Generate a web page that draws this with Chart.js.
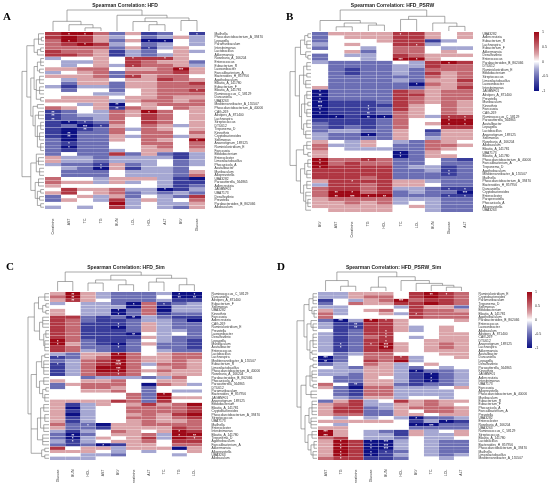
<!DOCTYPE html>
<html>
<head>
<meta charset="utf-8">
<script src="https://cdn.jsdelivr.net/npm/chart.js@4.4.1/dist/chart.umd.min.js"></script>
<style>
  body { margin: 0; background: #fff; }
  #page { position: relative; width: 550px; height: 483px; overflow: hidden; }
  canvas { position: absolute; }
  .tag { position: absolute; font: bold 11px "Liberation Serif", "DejaVu Serif", serif; line-height: 11px; color: #000; }
</style>
</head>
<body>
<div id="page">
  <canvas id="chartA" width="275" height="242" style="left:0;top:0"></canvas>
  <canvas id="chartB" width="275" height="242" style="left:275px;top:0"></canvas>
  <canvas id="chartC" width="275" height="241" style="left:0;top:242px"></canvas>
  <canvas id="chartD" width="275" height="241" style="left:275px;top:242px"></canvas>
  <div class="tag" style="left:3px;top:11px">A</div>
  <div class="tag" style="left:286px;top:11px">B</div>
  <div class="tag" style="left:6px;top:261px">C</div>
  <div class="tag" style="left:277px;top:261px">D</div>
</div>
<script>
// each character of a vals row is a correlation level: 1 = -1, 5 = 0, 9 = +1 (steps of 0.25)
// stars: [row, column, number of asterisks]
// trees: [height, child, child, ...], leaves are row / column indexes

const legendTicks = [1, 0.5, 0, -0.5, -1];

// ---------- A: HFD ----------
const colsA = ['Creatinine', 'AST', 'TC', 'TG', 'BUN', 'LDL', 'HDL', 'ALT', 'BW', 'Glucose'];
const rowsA = ['Mailhella', 'Phascolarctobacterium_A_39470', 'Lepagella', 'Paramuribaculum', 'Intestinimonas',
  'Lactobacillus', 'Akkermansia', 'Roseburia_A_166204', 'Enterococcus', 'Eubacterium_R',
  'Lawsonibacter', 'Faecalibacterium_A', 'Bacteroides_H_857956', 'Agathobaculum', 'Blautia_A_141780',
  'Eubacterium_F', 'Blautia_A_141781', 'Ruminococcus_C_58129', 'Duncaniella', 'UBA3263',
  'Mediterraneibacter_A_155507', 'Phascolarctobacterium_A_40006', 'CAG-269', 'Alistipes_A_871400', 'Lachnospira',
  'Streptococcus', 'DTU012', 'Treponema_D', 'Kineothrix', 'Cryptobacteroides',
  'Sellimonas', 'Anaerotignum_189125', 'Ruminiclostridium_E', 'Faecousia', 'Bifidobacterium',
  'Enterocloster', 'Limosilactobacillus', 'Phocaeicola_A', 'Acutalibacter', 'Muribaculum',
  'Alloprevotella', 'UBA3282', 'Parasutterella_564865', 'Adlercreutzia', 'JAGBNF01',
  'UBA7173', 'Desulfovibrio', 'Prevotella', 'Parabacteroides_B_862066', 'Allobaculum'];
const valsA = ['8997362352', '8986453464', '7986361154', '7898453454', '7777362465',
  '8776243564', '8876243465', '4556588865', '5446587663', '5456487764',
  '6677566796', '4567377786', '6667386775', '5466566876', '5366366778',
  '4244366777', '5355356778', '5554456777', '5666566766', '6666467767',
  '5546156777', '7656276576', '2354769756', '2344768756', '2334758756',
  '2123758756', '2312657646', '2123747656', '2133757757', '2133647746',
  '3133657659', '3233557757', '3133556757', '3233456656', '3533836324',
  '6443444424', '6443444534', '4332634534', '5431624435', '5333544436',
  '5333544437', '7554666421', '7664645422', '6555555423', '5866744124',
  '6856734343', '3564635438', '3654846457', '5555945446', '4545845436'];
const starsA = [[0,1,1],[0,2,1],[0,9,1],[2,1,1],[2,6,1],[2,7,1],[3,2,1],[4,6,1],[7,5,1],[7,7,1],
  [9,5,1],[10,8,3],[12,5,1],[16,9,1],[20,4,2],[21,4,2],[22,0,2],[22,6,1],[23,0,2],[24,0,2],
  [25,1,1],[25,2,1],[26,2,3],[26,3,1],[27,2,2],[28,1,2],[29,1,2],[30,9,1],[31,1,1],[32,1,1],
  [37,3,1],[38,3,1],[44,7,1]];
const topTreeA = [1, [0.46, 0, [0.3, 1, [0.15, 2, 3]]], [0.75, 4, [0.62, [0.45, 5, [0.3, 6, 7]], [0.5, 8, 9]]]];
const rowTreeA = [1,
  [0.78,
    [0.45, [0.25, 0, [0.12, 1, 2], 3], [0.3, [0.15, 4, 5], 6]],
    [0.6,
      [0.45, [0.3, [0.15, 7, 8, 9], [0.2, 10, 11]], [0.35, [0.2, 12, 13, 14], [0.2, 15, 16, 17], [0.15, 18, 19]]],
      [0.5, [0.3, 20, 21], [0.4, [0.25, 22, 23, 24], [0.3, [0.15, 25, 26, 27], [0.2, 28, 29, 30], [0.15, 31, 32, 33]]]]]],
  [0.6, [0.35, 34, [0.25, 35, 36, 37], [0.2, 38, 39, 40]], [0.4, [0.25, 41, 42, 43], [0.3, [0.15, 44, 45], [0.2, 46, 47], [0.15, 48, 49]]]]];

// ---------- B: HFD_PSRW ----------
const colsB = ['BW', 'AST', 'Creatinine', 'TG', 'HDL', 'TC', 'LDL', 'BUN', 'Glucose', 'ALT'];
const rowsB = ['UBA3282', 'Adlercreutzia', 'Eubacterium_R', 'Lachnospira', 'Eubacterium_F',
  'Akkermansia', 'Desulfovibrio', 'Enterococcus', 'Parabacteroides_B_862066', 'DTU012',
  'Ruminiclostridium_E', 'Bifidobacterium', 'Streptococcus', 'Limosilactobacillus', 'Lawsonibacter',
  'Intestinimonas', 'JAGBNF01', 'Alistipes_A_871400', 'Prevotella', 'Muribaculum',
  'Kineothrix', 'Faecousia', 'CAG-269', 'Ruminococcus_C_58129', 'Parasutterella_564865',
  'Acutalibacter', 'Lepagella', 'Lactobacillus', 'Anaerotignum_189125', 'Sellimonas',
  'Roseburia_A_166204', 'Allobaculum', 'Blautia_A_141781', 'UBA7173', 'Blautia_A_141780',
  'Phascolarctobacterium_A_40006', 'Faecalibacterium_A', 'Treponema_D', 'Agathobaculum', 'Mediterraneibacter_A_155507',
  'Mailhella', 'Phascolarctobacterium_A_39470', 'Bacteroides_H_857956', 'Duncaniella', 'Cryptobacteroides',
  'Enterocloster', 'Paraprevotella', 'Phocaeicola_A', 'Alloprevotella', 'UBA3263'];
const valsB = ['3666688656', '3566688656', '3555688245', '4565588455', '3554577544',
  '5563577565', '3544587666', '3554599655', '4333354898', '5333344877',
  '5323343777', '5323343867', '5333333767', '5333343668', '5333331767',
  '6333333668', '1333387677', '1333388677', '1333387677', '1222387676',
  '1222286576', '1222386576', '1222376576', '1121176488', '2222375599',
  '3222375699', '3232375588', '3443365266', '4331365366', '4333365466',
  '6546543765', '7446533776', '7544433765', '6555513655', '6555513665',
  '9778733532', '9787733533', '9888834423', '8888833423', '8888833323',
  '8887833333', '6888866433', '4887866533', '7887844322', '7997834331',
  '7999933322', '6777744433', '6676745433', '6666656433', '5666655433'];
const starsB = [[0,5,1],[3,6,1],[7,5,3],[7,6,1],[8,8,1],[14,6,1],[16,0,1],[17,0,2],[18,0,1],[19,0,3],
  [20,0,3],[20,3,1],[21,0,1],[21,3,1],[22,0,1],[22,3,2],[23,1,1],[23,3,2],[23,4,1],[23,8,1],
  [23,9,1],[24,8,1],[24,9,1],[25,8,1],[25,9,1],[28,3,1],[33,5,1],[34,5,1],[35,0,1],[35,3,1],
  [36,0,1],[37,0,1],[38,8,1],[39,8,1],[41,2,1],[43,8,1],[43,9,1],[44,1,2],[44,2,1],[44,9,3],
  [45,1,2],[45,2,3],[45,3,1],[45,4,2],[45,8,1],[45,9,1]];
const topTreeB = [1, [0.5, 0, [0.38, [0.2, 1, 2], [0.28, 3, 4]]], [0.7, [0.55, 5, 6], [0.38, 7, [0.22, 8, 9]]]];
const rowTreeB = [1,
  [0.75,
    [0.5, [0.3, [0.15, 0, 1], [0.2, 2, 3, 4]], [0.25, 5, [0.15, 6, 7]]],
    [0.55, [0.35, [0.2, 8, 9, 10], [0.2, 11, 12], [0.25, 13, 14, 15]],
      [0.45, [0.3, [0.2, 16, 17, 18], [0.15, 19, 20], [0.2, 21, 22, 23]], [0.35, [0.2, 24, 25, 26], [0.25, 27, 28, 29]]]]],
  [0.7, [0.35, [0.2, 30, 31, 32], [0.15, 33, 34]],
    [0.5, [0.3, [0.15, 35, 36, 37], [0.2, 38, 39, 40]], [0.35, [0.2, 41, 42, 43], [0.25, 44, 45, [0.15, 46, 47, 48], 49]]]]];

// ---------- C: HFD_Sim ----------
const colsC = ['Glucose', 'BUN', 'HDL', 'AST', 'BW', 'Creatinine', 'ALT', 'TC', 'TG', 'LDL'];
const rowsC = ['Ruminococcus_C_58129', 'Duncaniella', 'Alistipes_A_871400', 'Eubacterium_F', 'Sellimonas',
  'UBA3282', 'Kineothrix', 'Faecousia', 'Adlercreutzia', 'CAG-269',
  'Ruminiclostridium_E', 'Prevotella', 'Lawsonibacter', 'Desulfovibrio', 'Lepagella',
  'Muribaculum', 'Acutalibacter', 'Enterococcus', 'Lactobacillus', 'Lachnospira',
  'Mediterraneibacter_A_155507', 'Eubacterium_R', 'Limosilactobacillus', 'Phascolarctobacterium_A_40006', 'Roseburia_A_166204',
  'Parabacteroides_B_862066', 'Phocaeicola_A', 'Parasutterella_564865', 'DTU012', 'Paramuribaculum',
  'Bacteroides_H_857956', 'JAGBNF01', 'Anaerotignum_189125', 'Bifidobacterium', 'Blautia_A_141781',
  'Cryptobacteroides', 'Phascolarctobacterium_A_39470', 'Streptococcus', 'UBA7173', 'Mailhella',
  'Enterocloster', 'Intestinimonas', 'Blautia_A_141780', 'Treponema_D', 'Agathobaculum',
  'Faecalibacterium_A', 'Akkermansia', 'Alloprevotella', 'UBA3263', 'Allobaculum'];
const valsC = ['6964333411', '7964333511', '6865333422', '4544317234', '5544417144',
  '6544137144', '6544137233', '8832314322', '8732234431', '8722236433',
  '8722136433', '8722236443', '8722215453', '8722226433', '9732235432',
  '9632136332', '8733235332', '8743235433', '4366975677', '2367976677',
  '3478976676', '2478974776', '2479975676', '2479976766', '2478875666',
  '5534443475', '6566755665', '3677751764', '3577653555', '5566753544',
  '5555573955', '5555573966', '6666873855', '6246568679', '6145577778',
  '6245577778', '6145567689', '6245577678', '6245567667', '7331667777',
  '6332666687', '4245765698', '3135667499', '3146568498', '4245667588',
  '3231266577', '8566466616', '6665454556', '5544355545', '4445555555'];
const starsC = [[0,1,2],[0,8,1],[0,9,1],[1,1,2],[1,8,2],[1,9,2],[2,1,2],[3,5,1],[3,7,1],[5,4,1],
  [6,4,1],[7,5,2],[9,4,1],[10,4,1],[12,5,2],[14,0,1],[15,0,1],[15,4,1],[16,4,1],[18,4,1],
  [19,0,1],[20,4,3],[21,0,1],[21,4,4],[22,4,3],[23,4,1],[24,4,1],[30,7,1],[39,2,1],[41,8,1],
  [42,1,2],[42,8,1],[42,9,2],[43,1,1],[43,9,1],[44,1,1],[45,3,1]];
const topTreeC = [1, [0.5, 0, 1], [0.83, [0.58, [0.42, 2, 3], [0.33, 4, 5]], [0.67, [0.47, 6, 7], [0.33, 8, 9]]]];
const rowTreeC = [1,
  [0.7, [0.5, [0.2, 0, 1, 2], [0.3, [0.15, 3, 4], [0.15, 5, 6]]],
    [0.45, [0.3, 7, 8, 9, 10], [0.25, [0.15, 11, 12, 13], [0.2, 14, 15, 16, 17]]]],
  [0.85,
    [0.6, [0.35, [0.2, 18, 19], [0.25, 20, 21, 22, 23, 24]], [0.45, [0.25, 25, 26, 27], [0.3, [0.15, 28, 29], [0.2, 30, 31, 32]]]],
    [0.55, [0.4, [0.25, 33, 34, 35], [0.2, 36, 37, 38], [0.25, 39, 40, 41]], [0.3, 42, 43, 44, 45]],
    [0.35, [0.2, 46, 47], [0.2, 48, 49]]]];

// ---------- D: HFD_PSRW_Sim ----------
const colsD = ['AST', 'TG', 'Creatinine', 'Glucose', 'BUN', 'HDL', 'BW', 'TC', 'LDL', 'ALT'];
const rowsD = ['Ruminiclostridium_E', 'Cryptobacteroides', 'Paramuribaculum', 'Treponema_D', 'Sellimonas',
  'Bifidobacterium', 'Blautia_A_141781', 'Agathobaculum', 'Parabacteroides_B_862066', 'Enterococcus',
  'Lawsonibacter', 'Allobaculum', 'Alistipes_A_871400', 'CAG-269', 'DTU012',
  'Anaerotignum_189125', 'Lachnospira', 'Akkermansia', 'Acutalibacter', 'Duncaniella',
  'Lepagella', 'Desulfovibrio', 'Parasutterella_564865', 'Kineothrix', 'JAGBNF01',
  'Adlercreutzia', 'Intestinimonas', 'UBA7173', 'Faecousia', 'Alloprevotella',
  'Phascolarctobacterium_A_40006', 'Muribaculum', 'Eubacterium_R', 'Eubacterium_F', 'Phocaeicola_A',
  'Faecalibacterium_A', 'Prevotella', 'UBA3282', 'Enterocloster', 'Roseburia_A_166204',
  'UBA3263', 'Ruminococcus_C_58129', 'Streptococcus', 'Blautia_A_141780', 'Lactobacillus',
  'Bacteroides_H_857956', 'Phascolarctobacterium_A_39470', 'Mailhella', 'Limosilactobacillus', 'Mediterraneibacter_A_155507'];
const valsD = ['4466658987', '4467758987', '2546797887', '3576688987', '4455548663',
  '6456758776', '7455648777', '7555558777', '3149865556', '4228865555',
  '4228864565', '5238864565', '4238855566', '4237854566', '4238855666',
  '4238965676', '4238965676', '4238865666', '5347755566', '1357784556',
  '1358794555', '3457645655', '5436643545', '4446641334', '4436642134',
  '5336542134', '5336642134', '7526632334', '6317744456', '5327744445',
  '5327744445', '5436645545', '3684586766', '6784466765', '6883467776',
  '6883365776', '6773366566', '5454541334', '6666652412', '5455551133',
  '6655553333', '9654326456', '9654426446', '7854435445', '6981145433',
  '6981145433', '6981145433', '6981235433', '6981245434', '7882235545'];
const starsD = [[0,7,2],[0,8,1],[2,5,3],[6,6,1],[8,1,3],[8,3,2],[8,4,1],[9,2,2],[10,2,2],[11,4,1],
  [12,4,1],[13,4,1],[14,4,1],[15,1,1],[15,3,1],[15,4,3],[16,1,1],[16,4,3],[19,0,3],[19,5,1],
  [20,0,2],[23,6,1],[24,7,1],[25,7,1],[26,7,1],[27,2,2],[37,6,1],[38,8,1],[39,6,1],[39,7,3],
  [41,0,3],[42,0,3],[44,1,1],[44,3,1],[44,4,3],[45,1,1],[45,3,1],[45,4,3],[46,1,1],[46,3,1],
  [46,4,3],[47,1,1],[47,3,1],[47,4,1],[48,1,1],[48,3,1],[49,1,1]];
const topTreeD = [1, [0.55, 0, [0.25, 1, 2]], [0.75, [0.2, 3, 4], [0.55, 5, [0.4, 6, [0.3, 7, [0.2, 8, 9]]]]]];
const rowTreeD = [1,
  [0.65, [0.4, [0.2, 0, 1, 2, 3], [0.25, 4, [0.15, 5, 6, 7]]],
    [0.5, [0.3, 8, [0.2, 9, 10, 11]], [0.35, [0.2, 12, 13, 14, 15, 16], [0.25, 17, 18], [0.2, 19, 20]]]],
  [0.8, [0.55, [0.35, [0.2, 21, 22], [0.25, 23, 24, 25, 26], [0.2, 27, 28]], [0.3, 29, 30, 31]],
    [0.6, [0.4, [0.25, 32, 33, 34, 35, 36], [0.3, 37, 38, 39, 40]], [0.45, [0.25, 41, 42, 43], [0.3, [0.15, 44, 45, 46], [0.2, 47, 48, 49]]]]]];

const FONT = '"Liberation Sans", Arial, sans-serif';

function level(ch) { return (Number(ch) - 5) / 4; }

// navy - white - firebrick ramp, a bit steeper near the ends like the original key
function corrColor(v) {
  const end = v < 0 ? [12, 16, 132] : [158, 8, 22];
  const t = Math.pow(Math.min(1, Math.abs(v)), 0.72);
  const c = end.map(e => Math.round(255 + (e - 255) * t));
  return 'rgb(' + c.join(',') + ')';
}

// work out where each node of a tree sits
function place(node, leafPos) {
  if (typeof node === 'number') return { pos: leafPos(node), h: 0 };
  const [h, ...rest] = node;
  const kids = rest.map(k => place(k, leafPos));
  return { pos: (kids[0].pos + kids[kids.length - 1].pos) / 2, h, kids };
}

function drawTree(ctx, node, map) {
  if (!node.kids) return;
  ctx.beginPath();
  node.kids.forEach(k => {
    const a = map(k.pos, k.h), b = map(k.pos, node.h);
    ctx.moveTo(a[0], a[1]); ctx.lineTo(b[0], b[1]);
  });
  const s = map(node.kids[0].pos, node.h), e = map(node.kids[node.kids.length - 1].pos, node.h);
  ctx.moveTo(s[0], s[1]); ctx.lineTo(e[0], e[1]);
  ctx.stroke();
  node.kids.forEach(k => drawTree(ctx, k, map));
}

function makePanel(p) {
  const canvas = document.getElementById(p.id);
  const W = canvas.width, H = canvas.height;
  const a = p.area;

  const datasets = p.cols.map((c, j) => ({
    label: c,
    data: p.rows.map(() => 1),
    backgroundColor: p.vals.map(s => corrColor(level(s[j]))),
    borderColor: 'rgba(255,255,255,0.45)',
    borderWidth: 0.3,
    borderSkipped: false,
    barPercentage: 1,
    categoryPercentage: 1
  }));

  const extras = {
    id: 'extras',
    afterDraw(chart) {
      const ctx = chart.ctx, xs = chart.scales.x, ys = chart.scales.y, ca = chart.chartArea;
      ctx.save();
      // significance marks
      ctx.fillStyle = '#fff';
      ctx.font = 'bold 3.6px ' + FONT;
      ctx.textAlign = 'center';
      ctx.textBaseline = 'middle';
      p.stars.forEach(([r, c, n]) => {
        ctx.fillText('*'.repeat(n), xs.getPixelForValue(c + 0.5), ys.getPixelForValue(r) + 0.9);
      });
      // dendrograms
      ctx.strokeStyle = '#707070';
      ctx.lineWidth = 0.6;
      const topT = place(p.topTree, i => xs.getPixelForValue(i + 0.5));
      drawTree(ctx, topT, (pos, h) => [pos, ca.top - 1 - h * p.dendroTop]);
      const leftT = place(p.rowTree, i => ys.getPixelForValue(i));
      drawTree(ctx, leftT, (pos, h) => [ca.left - 1 - h * p.dendroLeft, pos]);
      // colour key
      if (p.legend) {
        const L = p.legend;
        const g = ctx.createLinearGradient(0, L.top, 0, L.bottom);
        [1, 0.75, 0.5, 0.25, 0, -0.25, -0.5, -0.75, -1].forEach(v => g.addColorStop((1 - v) / 2, corrColor(v)));
        ctx.fillStyle = g;
        ctx.fillRect(L.x, L.top, L.w, L.bottom - L.top);
        ctx.fillStyle = '#333';
        ctx.font = '3.6px ' + FONT;
        ctx.textAlign = 'left';
        legendTicks.forEach(v => {
          ctx.fillText(String(v), L.labelX, L.top + (1 - v) / 2 * (L.bottom - L.top));
        });
      }
      ctx.restore();
    }
  };

  new Chart(canvas, {
    type: 'bar',
    data: { labels: p.rows, datasets },
    options: {
      indexAxis: 'y',
      responsive: false,
      animation: false,
      events: [],
      layout: { padding: { left: a.left, right: 0, top: 0, bottom: 0 } },
      plugins: {
        legend: { display: false },
        tooltip: { enabled: false },
        title: {
          display: true,
          text: p.title,
          fullSize: false,
          color: '#222',
          font: { family: FONT, size: 5, weight: 'bold' },
          padding: { top: p.titleY - 3, bottom: a.top - p.titleY - 3 }
        }
      },
      scales: {
        x: {
          type: 'linear', stacked: true, min: 0, max: p.cols.length, position: 'bottom',
          grid: { display: false }, border: { display: false },
          afterBuildTicks: s => { s.ticks = p.cols.map((c, i) => ({ value: i + 0.5 })); },
          ticks: {
            autoSkip: false, minRotation: 90, maxRotation: 90, padding: 1.5, color: '#333',
            font: { family: FONT, size: 3.5 },
            callback: v => p.cols[Math.floor(v)]
          },
          afterFit: s => { s.height = H - a.bottom; s.paddingLeft = 0; s.paddingRight = 0; }
        },
        y: {
          type: 'category', stacked: true, position: 'right',
          grid: { display: false }, border: { display: false },
          ticks: { autoSkip: false, padding: 1.5, color: '#333', font: { family: FONT, size: 3.3 } },
          afterFit: s => { s.width = W - a.right; s.paddingTop = 0; s.paddingBottom = 0; }
        }
      }
    },
    plugins: [extras]
  });
}

makePanel({ id: 'chartA', title: 'Spearman Correlation: HFD', cols: colsA, rows: rowsA, vals: valsA, stars: starsA,
  topTree: topTreeA, rowTree: rowTreeA, area: { left: 45, right: 205, top: 32, bottom: 209 },
  titleY: 6, dendroTop: 21, dendroLeft: 22, legend: null });
makePanel({ id: 'chartB', title: 'Spearman Correlation: HFD_PSRW', cols: colsB, rows: rowsB, vals: valsB, stars: starsB,
  topTree: topTreeB, rowTree: rowTreeB, area: { left: 37, right: 198, top: 32, bottom: 212 },
  titleY: 6, dendroTop: 21, dendroLeft: 21, legend: { x: 259, w: 5, top: 32, bottom: 91, labelX: 267 } });
makePanel({ id: 'chartC', title: 'Spearman Correlation: HFD_Sim', cols: colsC, rows: rowsC, vals: valsC, stars: starsC,
  topTree: topTreeC, rowTree: rowTreeC, area: { left: 50, right: 202, top: 50, bottom: 218 },
  titleY: 26, dendroTop: 19, dendroLeft: 21, legend: null });
makePanel({ id: 'chartD', title: 'Spearman Correlation: HFD_PSRW_Sim', cols: colsD, rows: rowsD, vals: valsD, stars: starsD,
  topTree: topTreeD, rowTree: rowTreeD, area: { left: 43, right: 194, top: 50, bottom: 218 },
  titleY: 26, dendroTop: 19, dendroLeft: 20, legend: { x: 252, w: 5, top: 50, bottom: 106, labelX: 260 } });
</script>
</body>
</html>
